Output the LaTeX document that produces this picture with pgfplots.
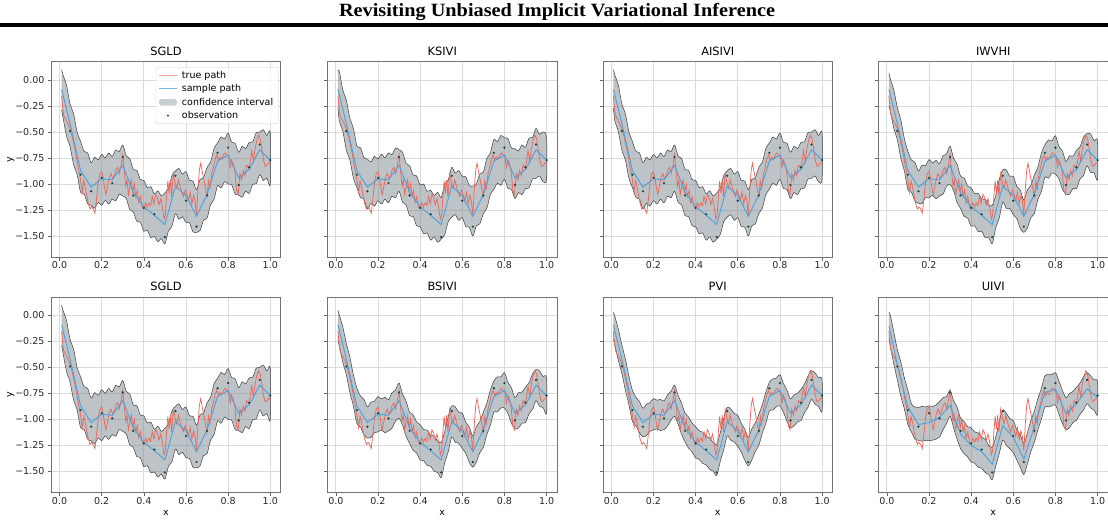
\documentclass[border=0pt]{standalone}
\usepackage{fontspec}
\setmainfont{DejaVu Sans}
\newfontfamily\titlefont{Liberation Serif}
\usepackage{pgfplots}
\pgfplotsset{compat=1.18}
\usepackage{pgfplotstable}

\definecolor{truered}{RGB}{238,104,90}
\definecolor{legred}{RGB}{246,160,150}
\definecolor{sampleblue}{RGB}{72,160,222}
\definecolor{legblue}{RGB}{120,185,230}
\definecolor{bandfill}{RGB}{123,135,143}
\definecolor{bandgray}{RGB}{189,195,199}
\definecolor{obscolor}{RGB}{25,70,50}

% confidence bands: upper edge left to right, then lower edge right to left
\pgfplotstableread{
x pS pK pA pI pB pP pU
0.01 0.100 0.090 0.100 0.070 0.050 0.030 0.030
0.0167 0.049 0.084 0.049 0.010 0.005 -0.007 0.000
0.0333 -0.050 -0.095 -0.050 -0.097 -0.112 -0.132 -0.160
0.05 -0.230 -0.195 -0.230 -0.265 -0.270 -0.282 -0.330
0.0667 -0.323 -0.368 -0.323 -0.385 -0.400 -0.420 -0.450
0.0833 -0.497 -0.462 -0.497 -0.565 -0.570 -0.582 -0.600
0.1 -0.590 -0.635 -0.590 -0.685 -0.700 -0.720 -0.720
0.1167 -0.685 -0.650 -0.685 -0.768 -0.773 -0.785 -0.850
0.1333 -0.700 -0.745 -0.700 -0.792 -0.807 -0.827 -0.880
0.15 -0.795 -0.760 -0.795 -0.875 -0.880 -0.892 -0.885
0.1667 -0.742 -0.787 -0.742 -0.818 -0.833 -0.853 -0.875
0.1833 -0.768 -0.733 -0.768 -0.822 -0.827 -0.839 -0.880
0.2 -0.715 -0.760 -0.715 -0.765 -0.780 -0.800 -0.870
0.2167 -0.748 -0.713 -0.748 -0.798 -0.803 -0.815 -0.875
0.2333 -0.702 -0.747 -0.702 -0.772 -0.787 -0.807 -0.860
0.25 -0.735 -0.700 -0.735 -0.805 -0.810 -0.822 -0.830
0.2667 -0.672 -0.717 -0.672 -0.728 -0.743 -0.763 -0.790
0.2833 -0.688 -0.653 -0.688 -0.712 -0.717 -0.729 -0.780
0.3 -0.625 -0.670 -0.625 -0.635 -0.650 -0.670 -0.720
0.3167 -0.730 -0.695 -0.730 -0.752 -0.757 -0.769 -0.820
0.3333 -0.755 -0.800 -0.755 -0.808 -0.823 -0.843 -0.880
0.35 -0.860 -0.825 -0.860 -0.925 -0.930 -0.942 -0.990
0.3667 -0.868 -0.913 -0.868 -0.942 -0.957 -0.977 -1.020
0.3833 -0.957 -0.922 -0.957 -1.018 -1.023 -1.035 -1.070
0.4 -0.965 -1.010 -0.965 -1.035 -1.050 -1.070 -1.080
0.4167 -1.035 -1.000 -1.035 -1.092 -1.097 -1.109 -1.120
0.4333 -1.025 -1.070 -1.025 -1.088 -1.103 -1.123 -1.130
0.45 -1.095 -1.060 -1.095 -1.145 -1.150 -1.162 -1.170
0.4667 -1.065 -1.110 -1.065 -1.145 -1.160 -1.180 -1.190
0.4833 -1.115 -1.080 -1.115 -1.205 -1.210 -1.222 -1.250
0.5 -1.085 -1.130 -1.085 -1.205 -1.220 -1.240 -1.270
0.5167 -1.042 -1.007 -1.042 -1.112 -1.117 -1.129 -1.170
0.5333 -0.918 -0.963 -0.918 -0.958 -0.973 -0.993 -1.020
0.55 -0.875 -0.840 -0.875 -0.865 -0.870 -0.882 -0.910
0.5667 -0.850 -0.895 -0.850 -0.865 -0.880 -0.900 -0.940
0.5833 -0.905 -0.870 -0.905 -0.925 -0.930 -0.942 -0.990
0.6 -0.880 -0.925 -0.880 -0.925 -0.940 -0.960 -1.010
0.6167 -0.965 -0.930 -0.965 -1.022 -1.027 -1.039 -1.100
0.6333 -0.970 -1.015 -0.970 -1.058 -1.073 -1.093 -1.150
0.65 -1.055 -1.020 -1.055 -1.155 -1.160 -1.172 -1.230
0.6667 -0.957 -1.002 -0.957 -1.055 -1.070 -1.090 -1.130
0.6833 -0.938 -0.903 -0.938 -1.015 -1.020 -1.032 -1.010
0.7 -0.840 -0.885 -0.840 -0.915 -0.930 -0.950 -0.920
0.7167 -0.788 -0.753 -0.788 -0.838 -0.843 -0.855 -0.800
0.7333 -0.657 -0.702 -0.657 -0.702 -0.717 -0.737 -0.700
0.75 -0.605 -0.570 -0.605 -0.625 -0.630 -0.642 -0.580
0.7667 -0.547 -0.592 -0.547 -0.575 -0.590 -0.610 -0.570
0.7833 -0.568 -0.533 -0.568 -0.585 -0.590 -0.602 -0.570
0.8 -0.510 -0.555 -0.510 -0.535 -0.550 -0.570 -0.550
0.8167 -0.598 -0.563 -0.598 -0.638 -0.643 -0.655 -0.630
0.8333 -0.607 -0.652 -0.607 -0.682 -0.697 -0.717 -0.720
0.85 -0.695 -0.660 -0.695 -0.785 -0.790 -0.802 -0.790
0.8667 -0.637 -0.682 -0.637 -0.728 -0.743 -0.763 -0.750
0.8833 -0.658 -0.623 -0.658 -0.732 -0.737 -0.749 -0.730
0.9 -0.600 -0.645 -0.600 -0.675 -0.690 -0.710 -0.690
0.9167 -0.593 -0.558 -0.593 -0.642 -0.647 -0.659 -0.650
0.9333 -0.507 -0.552 -0.507 -0.548 -0.563 -0.583 -0.590
0.95 -0.500 -0.465 -0.500 -0.515 -0.520 -0.532 -0.550
0.9667 -0.477 -0.522 -0.477 -0.518 -0.533 -0.553 -0.580
0.9833 -0.533 -0.498 -0.533 -0.582 -0.587 -0.599 -0.620
1.0 -0.510 -0.555 -0.510 -0.585 -0.600 -0.620 -0.640
1.0 -1.000 -0.955 -0.955 -0.955 -0.940 -0.920 -0.950
0.9833 -0.943 -0.978 -0.978 -0.892 -0.887 -0.875 -0.910
0.9667 -0.967 -0.922 -0.922 -0.888 -0.873 -0.853 -0.890
0.95 -0.910 -0.945 -0.945 -0.825 -0.820 -0.808 -0.850
0.9333 -0.997 -0.952 -0.952 -0.918 -0.903 -0.883 -0.910
0.9167 -1.003 -1.038 -1.038 -0.952 -0.947 -0.935 -0.950
0.9 -1.090 -1.045 -1.045 -1.045 -1.030 -1.010 -1.010
0.8833 -1.068 -1.103 -1.103 -1.042 -1.037 -1.025 -1.030
0.8667 -1.127 -1.082 -1.082 -1.098 -1.083 -1.063 -1.080
0.85 -1.105 -1.140 -1.140 -1.095 -1.090 -1.078 -1.100
0.8333 -1.097 -1.052 -1.052 -1.052 -1.037 -1.017 -1.040
0.8167 -1.008 -1.043 -1.043 -0.948 -0.943 -0.931 -0.950
0.8 -1.000 -0.955 -0.955 -0.905 -0.890 -0.870 -0.860
0.7833 -0.978 -1.013 -1.013 -0.895 -0.890 -0.878 -0.870
0.7667 -1.037 -0.992 -0.992 -0.945 -0.930 -0.910 -0.880
0.75 -1.015 -1.050 -1.050 -0.935 -0.930 -0.918 -0.880
0.7333 -1.147 -1.102 -1.102 -1.072 -1.057 -1.037 -1.000
0.7167 -1.198 -1.233 -1.233 -1.148 -1.143 -1.131 -1.100
0.7 -1.330 -1.285 -1.285 -1.285 -1.270 -1.250 -1.220
0.6833 -1.348 -1.383 -1.383 -1.325 -1.320 -1.308 -1.310
0.6667 -1.447 -1.402 -1.402 -1.425 -1.410 -1.390 -1.430
0.65 -1.465 -1.500 -1.500 -1.465 -1.460 -1.448 -1.530
0.6333 -1.460 -1.415 -1.415 -1.428 -1.413 -1.393 -1.460
0.6167 -1.375 -1.410 -1.410 -1.332 -1.327 -1.315 -1.390
0.6 -1.370 -1.325 -1.325 -1.295 -1.280 -1.260 -1.320
0.5833 -1.315 -1.350 -1.350 -1.235 -1.230 -1.218 -1.280
0.5667 -1.340 -1.295 -1.295 -1.235 -1.220 -1.200 -1.250
0.55 -1.285 -1.320 -1.320 -1.175 -1.170 -1.158 -1.200
0.5333 -1.408 -1.363 -1.363 -1.328 -1.313 -1.293 -1.330
0.5167 -1.452 -1.487 -1.487 -1.422 -1.417 -1.405 -1.450
0.5 -1.575 -1.530 -1.530 -1.575 -1.560 -1.540 -1.580
0.4833 -1.525 -1.560 -1.560 -1.515 -1.510 -1.498 -1.530
0.4667 -1.555 -1.510 -1.510 -1.515 -1.500 -1.480 -1.510
0.45 -1.505 -1.540 -1.540 -1.455 -1.450 -1.438 -1.470
0.4333 -1.515 -1.470 -1.470 -1.458 -1.443 -1.423 -1.460
0.4167 -1.445 -1.480 -1.480 -1.402 -1.397 -1.385 -1.420
0.4 -1.455 -1.410 -1.410 -1.405 -1.390 -1.370 -1.410
0.3833 -1.367 -1.402 -1.402 -1.328 -1.323 -1.311 -1.360
0.3667 -1.358 -1.313 -1.313 -1.312 -1.297 -1.277 -1.330
0.35 -1.270 -1.305 -1.305 -1.235 -1.230 -1.218 -1.280
0.3333 -1.245 -1.200 -1.200 -1.178 -1.163 -1.143 -1.190
0.3167 -1.140 -1.175 -1.175 -1.062 -1.057 -1.045 -1.080
0.3 -1.115 -1.070 -1.070 -1.005 -0.990 -0.970 -0.970
0.2833 -1.098 -1.133 -1.133 -1.022 -1.017 -1.005 -1.040
0.2667 -1.162 -1.117 -1.117 -1.098 -1.083 -1.063 -1.100
0.25 -1.145 -1.180 -1.180 -1.115 -1.110 -1.098 -1.170
0.2333 -1.192 -1.147 -1.147 -1.142 -1.127 -1.107 -1.190
0.2167 -1.158 -1.193 -1.193 -1.108 -1.103 -1.091 -1.200
0.2 -1.205 -1.160 -1.160 -1.135 -1.120 -1.100 -1.205
0.1833 -1.178 -1.213 -1.213 -1.132 -1.127 -1.115 -1.200
0.1667 -1.232 -1.187 -1.187 -1.188 -1.173 -1.153 -1.210
0.15 -1.205 -1.240 -1.240 -1.185 -1.180 -1.168 -1.200
0.1333 -1.190 -1.145 -1.145 -1.162 -1.147 -1.127 -1.190
0.1167 -1.095 -1.130 -1.130 -1.078 -1.073 -1.061 -1.120
0.1 -1.080 -1.035 -1.035 -1.055 -1.040 -1.020 -1.050
0.0833 -0.907 -0.942 -0.942 -0.875 -0.870 -0.858 -0.900
0.0667 -0.813 -0.768 -0.768 -0.755 -0.740 -0.720 -0.780
0.05 -0.640 -0.675 -0.675 -0.575 -0.570 -0.558 -0.620
0.0333 -0.540 -0.495 -0.495 -0.467 -0.452 -0.432 -0.470
0.0167 -0.361 -0.396 -0.396 -0.300 -0.295 -0.283 -0.300
0.01 -0.290 -0.270 -0.270 -0.250 -0.240 -0.230 -0.220
}\bands

\pgfplotstableread{
x y
0.01 -0.09
0.05 -0.42
0.10 -0.87
0.15 -1.03
0.20 -0.95
0.25 -0.96
0.30 -0.82
0.35 -1.08
0.40 -1.22
0.45 -1.30
0.50 -1.39
0.55 -1.02
0.60 -1.11
0.65 -1.31
0.70 -1.10
0.75 -0.78
0.80 -0.72
0.85 -0.94
0.90 -0.86
0.95 -0.67
1.00 -0.77
}\blueS

\pgfplotstableread{
x y
0.01 -0.10
0.05 -0.48
0.10 -0.88
0.15 -1.05
0.20 -1.03
0.25 -0.98
0.30 -0.865
0.35 -1.14
0.40 -1.25
0.45 -1.31
0.50 -1.43
0.55 -1.06
0.60 -1.17
0.65 -1.38
0.70 -1.07
0.75 -0.74
0.80 -0.71
0.85 -0.945
0.90 -0.85
0.95 -0.705
1.00 -0.79
}\blueU

\pgfplotstableread{
x y
0.05 -0.49
0.10 -0.91
0.15 -1.07
0.20 -0.94
0.25 -0.99
0.30 -0.74
0.35 -1.11
0.40 -1.23
0.45 -1.29
0.50 -1.51
0.55 -0.92
0.60 -1.16
0.65 -1.41
0.70 -1.11
0.75 -0.70
0.80 -0.65
0.85 -1.01
0.90 -0.84
0.95 -0.62
1.00 -0.77
}\obs

\pgfplotstableread{
x y
0.010 -0.15
0.015 -0.27
0.020 -0.34
0.030 -0.38
0.040 -0.42
0.050 -0.47
0.060 -0.54
0.070 -0.63
0.078 -0.71
0.085 -0.80
0.095 -0.90
0.100 -0.96
0.108 -1.08
0.115 -0.97
0.122 -1.03
0.130 -1.12
0.137 -1.19
0.145 -1.24
0.152 -1.22
0.160 -1.24
0.168 -1.28
0.176 -1.14
0.184 -0.98
0.192 -0.90
0.200 -0.88
0.207 -0.94
0.214 -1.04
0.220 -1.10
0.228 -1.02
0.236 -0.94
0.244 -0.90
0.252 -0.95
0.260 -0.92
0.268 -0.86
0.276 -0.84
0.284 -0.90
0.292 -0.82
0.300 -0.72
0.307 -0.87
0.314 -1.02
0.320 -0.96
0.327 -1.10
0.334 -1.02
0.341 -0.96
0.348 -1.08
0.355 -1.00
0.362 -1.12
0.369 -1.06
0.376 -1.18
0.384 -1.12
0.392 -1.22
0.400 -1.24
0.408 -1.18
0.416 -1.22
0.424 -1.18
0.432 -1.21
0.440 -1.12
0.448 -1.19
0.456 -1.10
0.464 -1.13
0.472 -1.20
0.480 -1.14
0.488 -1.22
0.496 -1.34
0.502 -1.30
0.508 -1.12
0.514 -0.97
0.520 -1.09
0.526 -0.96
0.532 -1.12
0.540 -0.90
0.548 -0.98
0.556 -1.04
0.564 -0.96
0.572 -1.02
0.580 -1.08
0.588 -1.12
0.596 -1.06
0.604 -1.10
0.612 -1.16
0.620 -1.08
0.628 -1.19
0.636 -1.11
0.643 -1.16
0.650 -1.30
0.657 -1.05
0.664 -0.86
0.670 -0.80
0.677 -0.88
0.684 -0.95
0.692 -1.04
0.700 -1.12
0.707 -0.97
0.714 -1.04
0.722 -0.90
0.730 -0.84
0.738 -0.76
0.746 -0.72
0.754 -0.77
0.762 -0.74
0.770 -0.76
0.778 -0.72
0.786 -0.70
0.794 -0.72
0.802 -0.74
0.810 -0.84
0.816 -0.77
0.824 -0.80
0.832 -0.88
0.840 -1.06
0.848 -1.10
0.856 -0.90
0.864 -0.96
0.872 -0.87
0.880 -0.92
0.888 -0.82
0.896 -0.84
0.904 -0.80
0.912 -0.68
0.920 -0.78
0.928 -0.66
0.936 -0.58
0.944 -0.53
0.952 -0.56
0.960 -0.66
0.968 -0.77
0.976 -0.83
0.984 -0.82
0.992 -0.80
1.000 -0.79
}\truepath

\pgfplotsset{
  panel/.style={
    scale only axis, width=229.5pt, height=195.5pt,
    xmin=-0.0395, xmax=1.0495, ymin=-1.705, ymax=0.176,
    xtick={0,0.2,0.4,0.6,0.8,1.0},
    xticklabels={0.0,0.2,0.4,0.6,0.8,1.0},
    ytick={0,-0.25,-0.5,-0.75,-1,-1.25,-1.5},
    yticklabels={},
    tick pos=left, tick align=outside, major tick length=3.3pt,
    every tick/.style={black!60, line width=0.6pt},
    grid=major, major grid style={black!14, line width=0.8pt},
    axis line style={black!55, line width=0.8pt},
    tick label style={font=\fontsize{9.5}{11}\selectfont, text=black!85},
    xticklabel style={yshift=2.5pt},
    title style={font=\fontsize{11.4}{13}\selectfont, at={(0.5,1)}, anchor=base, yshift=0.2pt, inner sep=0pt},
    label style={font=\fontsize{9.5}{11}\selectfont},
  },
  yleft/.style={yticklabels={0.00,−0.25,−0.50,−0.75,−1.00,−1.25,−1.50}, ylabel={y}, ylabel shift=-6pt},
  xbottom/.style={xlabel={x}, xlabel shift=-1pt},
}

\newcommand{\panelplots}[2]{%
  \addplot[fill=bandfill, fill opacity=0.5, draw=black!75, line width=0.5pt, smooth, forget plot] table[x=x,y=#1]{\bands};
  \addplot[truered, line width=0.75pt, forget plot] table[x=x,y=y]{\truepath};
  \addplot[sampleblue, line width=0.9pt, forget plot] table[x=x,y=y]{#2};
  \addplot[only marks, mark=*, mark size=0.9pt, draw=obscolor, fill=obscolor, forget plot] table[x=x,y=y]{\obs};
}

\begin{document}
\begin{tikzpicture}
\node[anchor=base, inner sep=0pt] at (557pt,504.3pt)
  {\resizebox{436pt}{13.2pt}{\titlefont\bfseries Revisiting Unbiased Implicit Variational Inference}};
\fill[black] (0pt,494.3pt) rectangle (1108pt,497.7pt);

% top row
\begin{axis}[panel, yleft, at={(51.2pt,263.7pt)}, anchor=south west, title={SGLD},
  legend style={at={(0.99,0.973)}, anchor=north east, draw=black!18, rounded corners=2pt,
    fill=white, fill opacity=0.8, text opacity=1, draw opacity=1, font=\fontsize{9.5}{11}\selectfont,
    inner xsep=3pt, inner ysep=2pt, row sep=0.6pt,
    /tikz/every odd column/.append style={column sep=3pt}},
  legend cell align=left]
  \panelplots{pS}{\blueS}
  \addlegendimage{draw=legred, line width=0.9pt}
  \addlegendentry{true path}
  \addlegendimage{draw=legblue, line width=0.9pt}
  \addlegendentry{sample path}
  \addlegendimage{area legend, fill=bandgray, draw=bandgray}
  \addlegendentry{confidence interval}
  \addlegendimage{only marks, mark=*, mark size=0.8pt, draw=obscolor, fill=obscolor}
  \addlegendentry{observation}
\end{axis}
\begin{axis}[panel, at={(327.5pt,263.7pt)}, anchor=south west, title={KSIVI}]
  \panelplots{pK}{\blueS}
\end{axis}
\begin{axis}[panel, at={(603pt,263.7pt)}, anchor=south west, title={AISIVI}]
  \panelplots{pA}{\blueS}
\end{axis}
\begin{axis}[panel, at={(878.5pt,263.7pt)}, anchor=south west, title={IWVHI}]
  \panelplots{pI}{\blueS}
\end{axis}

% bottom row
\begin{axis}[panel, yleft, xbottom, at={(51.2pt,28.3pt)}, anchor=south west, title={SGLD}]
  \panelplots{pS}{\blueS}
\end{axis}
\begin{axis}[panel, xbottom, at={(327.5pt,28.3pt)}, anchor=south west, title={BSIVI}]
  \panelplots{pB}{\blueS}
\end{axis}
\begin{axis}[panel, xbottom, at={(603pt,28.3pt)}, anchor=south west, title={PVI}]
  \panelplots{pP}{\blueS}
\end{axis}
\begin{axis}[panel, xbottom, at={(878.5pt,28.3pt)}, anchor=south west, title={UIVI}]
  \panelplots{pU}{\blueU}
\end{axis}
\pgfresetboundingbox
\useasboundingbox (0pt,0pt) rectangle (1108pt,521pt);
\end{tikzpicture}
\end{document}
